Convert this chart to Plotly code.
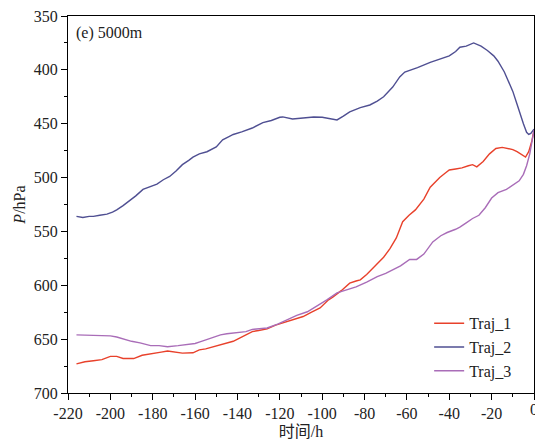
import plotly.graph_objects as go

# ---- data ----
t2 = [-216, -213, -210, -208, -205, -201.6, -199, -197, -194, -192, -188, -184.6, -181, -178, -175, -172, -169, -166,
      -163, -161, -158, -154.4, -150, -147, -144, -142, -138, -133, -128, -124, -120, -118.6, -114, -110, -107, -104,
      -100, -97, -93, -90, -87, -82, -77.5, -74, -71, -66.7, -63.4, -61, -58, -55, -49, -45, -40, -37, -35, -32,
      -28.5, -25, -22, -19, -17, -14, -12, -10, -8, -6.8, -5, -3.5, -2.5, -1.5, 0]
p2 = [536, 537, 536, 536, 535, 534, 532, 530, 526, 523, 517, 511, 508, 506, 502, 499, 494, 488,
      484, 481, 478, 476, 471.6, 465, 462, 460, 457.6, 454, 449, 447, 444, 443.7, 445.6, 445, 444, 443.7,
      444, 445, 446.5, 443, 439, 435, 432.6, 429, 425, 416, 406.6, 402, 400, 398, 393, 390, 387, 383, 379, 378,
      375, 378, 382, 387, 392, 402, 411, 420, 432, 440, 450, 458, 460, 459, 455]

t1 = [-216, -212, -208, -204, -200, -197, -194, -189, -185, -180, -176, -173, -170, -166, -161, -158, -155, -151.6,
      -148, -145, -142, -139, -136, -133, -130, -126, -122, -118.6, -114, -109, -105, -101, -97, -95, -91, -87, -84,
      -82, -79, -77, -74, -71, -68, -65, -62, -59, -56, -52, -49, -46, -44.5, -42, -40, -37, -34, -31, -29, -27,
      -24, -21, -18, -15, -13, -10, -8, -5.5, -4, -2.5, -1, 0]
p1 = [673, 671, 670, 669, 666, 666, 668, 668, 665, 663, 662, 661, 662, 663, 662.7, 660, 659, 657,
      655, 653.5, 652, 649, 646, 643, 642, 640.5, 637, 635, 632, 629, 625, 621, 613.5, 611, 605, 598, 596,
      595, 590, 586, 580, 574, 566, 556, 541, 535, 530, 520, 509, 503, 500, 496, 493, 492, 491, 489, 488, 490,
      485, 478, 473, 472, 473, 474, 476, 479, 481, 476, 466, 456]

t3 = [-216, -210, -205, -200, -197, -194, -190, -186, -181, -177, -173, -168, -164, -160, -157.7, -152, -148, -145,
      -139, -136, -133, -129, -126, -121, -116.7, -112, -107, -103, -97.8, -93, -88, -84, -79, -74, -70, -66.7,
      -63, -58.7, -55.4, -52, -47.8, -44, -41, -37, -35, -32, -29, -26, -23, -20, -17, -13, -10, -7, -5, -3.5,
      -2, -1, 0]
p3 = [646, 646.5, 647, 647, 648, 650, 652, 653.5, 656, 656, 657, 656, 655, 654, 652.5, 649, 646, 645,
      644, 643, 641, 640, 639.6, 636, 632, 628, 624.6, 620, 613.5, 607, 604, 601.5, 597, 592, 589, 585.7,
      582, 576, 576, 571, 559.7, 554, 551, 548, 546, 542, 538, 535, 528, 519, 514, 511, 507, 503, 497, 489,
      478, 467, 456]

names = ["Traj_1", "Traj_2", "Traj_3"]
colors = ["#E8412B", "#4F4F92", "#A96DB8"]

x_ticks = list(range(-220, 1, 20))
x_ticktext = [str(v) for v in x_ticks]
y_ticks = list(range(350, 701, 50))

FONT = "Liberation Serif, Times New Roman, Noto Sans CJK SC, serif"
FS = 16
TXT = "#222"

fig = go.Figure()
for t, p, n, c in [(t1, p1, names[0], colors[0]), (t2, p2, names[1], colors[1]), (t3, p3, names[2], colors[2])]:
    fig.add_trace(go.Scatter(x=t, y=p, mode="lines", name=n,
                             line=dict(color=c, width=1.4)))

axis_common = dict(showgrid=False, zeroline=False, showline=True, linecolor="black", linewidth=1.3,
                   mirror=True, ticks="outside", ticklen=6, tickwidth=1.3, tickcolor="black",
                   tickfont=dict(family=FONT, size=FS, color=TXT))

fig.update_xaxes(range=[-220, 0], tickvals=x_ticks, ticktext=x_ticktext,
                 minor=dict(tickvals=list(range(-210, 0, 20)), ticks="outside", ticklen=3,
                            tickwidth=1.3, tickcolor="black"),
                 title=dict(text="时间/h", font=dict(family=FONT, size=FS, color=TXT), standoff=4),
                 **axis_common)
fig.update_yaxes(range=[700, 350], tickvals=y_ticks,
                 minor=dict(tickvals=list(range(375, 700, 50)), ticks="outside", ticklen=3,
                            tickwidth=1.3, tickcolor="black"),
                 title=dict(text="<i>P</i>/hPa", font=dict(family=FONT, size=FS, color=TXT), standoff=4),
                 **axis_common)

fig.add_annotation(x=0.013, y=0.985, xref="paper", yref="paper", text="(e) 5000m", showarrow=False,
                   xanchor="left", yanchor="top", font=dict(family=FONT, size=FS, color=TXT))
# partially visible last tick label at the right edge, as in the reference
fig.add_annotation(x=x_ticks[-1], y=0, xref="x", yref="paper", text=x_ticktext[-1], showarrow=False,
                   xanchor="center", yanchor="top", yshift=-6, font=dict(family=FONT, size=FS, color=TXT))

fig.update_layout(
    width=535, height=444,
    margin=dict(l=68, r=1, t=16, b=51),
    paper_bgcolor="white", plot_bgcolor="white",
    legend=dict(x=0.775, y=0.23, xanchor="left", yanchor="top", bgcolor="rgba(0,0,0,0)",
                font=dict(family=FONT, size=FS, color=TXT), tracegroupgap=0, itemwidth=30),
    showlegend=True,
)

fig.write_html("out.html", config={"displayModeBar": False},
               post_script="document.body.style.margin='0px';")
